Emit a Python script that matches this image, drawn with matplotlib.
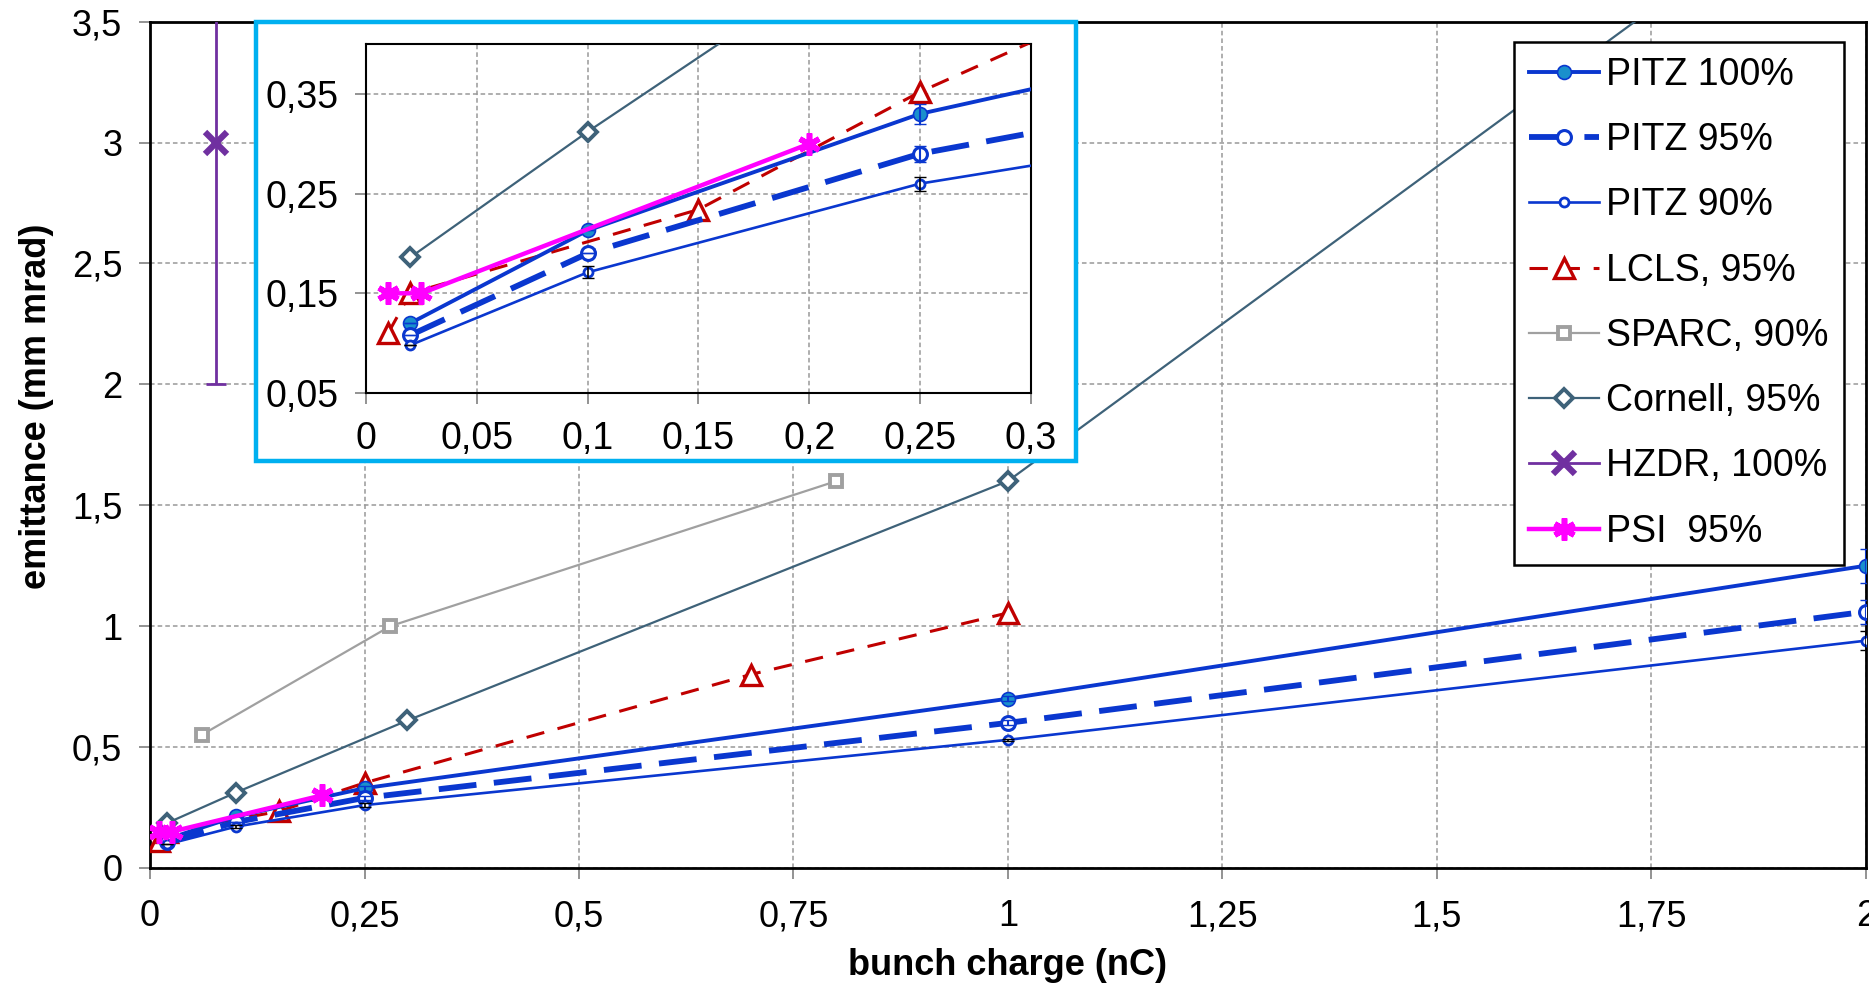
import numpy as np
import matplotlib.pyplot as plt
from matplotlib.patches import Rectangle

plt.rcParams['font.family'] = ['Liberation Sans', 'DejaVu Sans']

# data
pitz_x = [0.02, 0.1, 0.25, 1.0, 2.0]
pitz100 = [0.12, 0.213, 0.33, 0.70, 1.25]
pitz100_err = [0, 0, 0.01, 0.01, 0.07]
pitz95 = [0.108, 0.19, 0.29, 0.60, 1.06]
pitz95_err = [0, 0, 0.008, 0.01, 0.05]
pitz90 = [0.098, 0.171, 0.26, 0.53, 0.94]
pitz90_err = [0, 0.006, 0.007, 0.005, 0.04]

lcls_x = [0.01, 0.02, 0.15, 0.25, 0.7, 1.0]
lcls = [0.11, 0.15, 0.234, 0.352, 0.80, 1.055]

sparc_x = [0.06, 0.28, 0.8]
sparc = [0.55, 1.0, 1.6]

cornell_x = [0.02, 0.1, 0.3, 1.0, 2.0]
cornell = [0.186, 0.312, 0.61, 1.6, 4.2]

hzdr_x = [0.077]
hzdr = [3.0]
hzdr_err = [1.0]

psi_x = [0.01, 0.025, 0.2]
psi = [0.15, 0.15, 0.30]

x_ticks = [0, 0.25, 0.5, 0.75, 1, 1.25, 1.5, 1.75, 2]
x_labels = ["0", "0,25", "0,5", "0,75", "1", "1,25", "1,5", "1,75", "2"]
y_ticks = [0, 0.5, 1, 1.5, 2, 2.5, 3, 3.5]
y_labels = ["0", "0,5", "1", "1,5", "2", "2,5", "3", "3,5"]
ix_ticks = [0, 0.05, 0.1, 0.15, 0.2, 0.25, 0.3]
ix_labels = ["0", "0,05", "0,1", "0,15", "0,2", "0,25", "0,3"]
iy_ticks = [0.05, 0.15, 0.25, 0.35]
iy_labels = ["0,05", "0,15", "0,25", "0,35"]

blue = '#0A37CF'
teal = '#1A90CC'
red = '#C00000'
grey = '#A0A0A0'
slate = '#3E6279'
purple = '#7030A0'
magenta = '#FF00FF'


def draw_series(ax):
    ax.plot(pitz_x, pitz100, '-o', color=blue, lw=2.8, ms=10, mfc=teal, mec=blue, mew=1.2, label='PITZ 100%', zorder=5)
    ax.errorbar(pitz_x, pitz100, yerr=pitz100_err, fmt='none', ecolor=blue, elinewidth=1.5, capsize=4, zorder=5)
    ax.plot(pitz_x, pitz95, '--o', color=blue, lw=4.2, dashes=(6.5, 3), ms=10, mfc='white', mec=blue, mew=2.2, label='PITZ 95%', zorder=5)
    ax.errorbar(pitz_x, pitz95, yerr=pitz95_err, fmt='none', ecolor=blue, elinewidth=1.5, capsize=4, zorder=5)
    ax.plot(pitz_x, pitz90, '-o', color=blue, lw=1.9, ms=6.5, mfc='white', mec=blue, mew=2, label='PITZ 90%', zorder=5)
    ax.errorbar(pitz_x, pitz90, yerr=pitz90_err, fmt='none', ecolor='black', elinewidth=1.2, capsize=4, zorder=5)
    ax.plot(lcls_x, lcls, '--^', color=red, lw=2.2, dashes=(6, 4.5), ms=14, mfc='white', mec=red, mew=2.4, label='LCLS, 95%', zorder=4)
    ax.plot(sparc_x, sparc, '-s', color=grey, lw=1.6, ms=9, mfc='white', mec=grey, mew=2.8, label='SPARC, 90%', zorder=4)
    ax.plot(cornell_x, cornell, '-D', color=slate, lw=1.6, ms=9.5, mfc='white', mec=slate, mew=2.8, label='Cornell, 95%', zorder=4)
    ax.plot(hzdr_x, hzdr, '-x', color=purple, lw=2, ms=16, mew=4.5, label='HZDR, 100%', zorder=4)
    ax.errorbar(hzdr_x, hzdr, yerr=hzdr_err, fmt='none', ecolor=purple, elinewidth=2, capsize=7, capthick=2, zorder=4)
    ax.plot(psi_x, psi, '-', marker=(6, 2, 0), color=magenta, lw=3.2, ms=16, mew=4, label='PSI  95%', zorder=6)


def style_axes(ax, xt, xl, yt, yl, size):
    ax.set_xticks(xt)
    ax.set_xticklabels(xl)
    ax.set_yticks(yt)
    ax.set_yticklabels(yl)
    ax.tick_params(labelsize=size, length=8, width=1.2, color='#808080', direction='out', pad=12)
    ax.grid(True, color='#999999', linestyle=(0, (3, 2)), linewidth=1.1)
    ax.set_axisbelow(True)
    for s in ax.spines.values():
        s.set_color('black')
        s.set_linewidth(2)


fig = plt.figure(figsize=(18.69, 9.83), dpi=100)
ax = fig.add_axes([0.0803, 0.117, 0.918, 0.861])
draw_series(ax)
ax.set_xlim(0, 2)
ax.set_ylim(0, 3.5)
style_axes(ax, x_ticks, x_labels, y_ticks, y_labels, 26)
ax.tick_params(axis='x', pad=14.5)
ax.set_xlabel('bunch charge (nC)', fontsize=26, fontweight='bold', labelpad=10)
ax.set_ylabel('emittance (mm mrad)', fontsize=26, fontweight='bold', labelpad=13, y=0.546)

leg = ax.legend(loc='upper right', bbox_to_anchor=(0.987, 0.976), borderaxespad=0, fontsize=27,
                frameon=True, fancybox=False, edgecolor='black', framealpha=1,
                handlelength=1.85, handletextpad=0.2, labelspacing=0.78, borderpad=0.4)
leg.get_frame().set_linewidth(1.8)

# blue frame behind the inset
frame = Rectangle((0.137, 0.531), 0.4387, 0.447, transform=fig.transFigure,
                  facecolor='white', edgecolor='#00B0F0', linewidth=3.2, zorder=20, clip_on=False)
ax.add_artist(frame)

ins = fig.add_axes([0.1958, 0.6002, 0.3558, 0.355])
draw_series(ins)
ins.set_xlim(0, 0.3)
ins.set_ylim(0.05, 0.40)
style_axes(ins, ix_ticks, ix_labels, iy_ticks, iy_labels, 27)
for s in ins.spines.values():
    s.set_linewidth(1.5)

fig.savefig('out.png', dpi=100)
